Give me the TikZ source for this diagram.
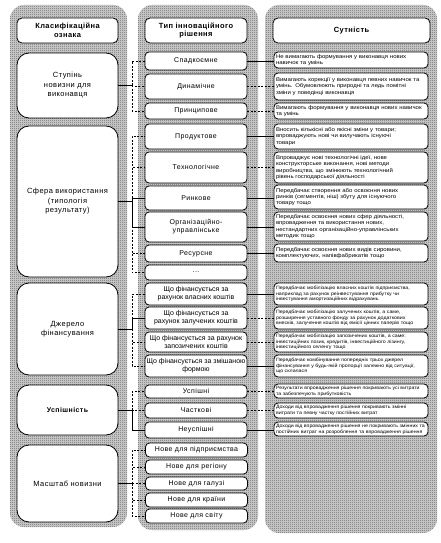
\documentclass[tikz,border=0pt]{standalone}
\usepackage{fontspec}
\setmainfont{Liberation Sans}
\newfontfamily\spc[LetterSpace=6]{Liberation Sans}
\newfontfamily\wide[FakeStretch=1.12]{Liberation Sans}
\usetikzlibrary{patterns}
\pgfdeclarepatternformonly{checker}{\pgfpointorigin}{\pgfpoint{2bp}{2bp}}{\pgfpoint{2bp}{2bp}}{%
  \pgfpathrectangle{\pgfpointorigin}{\pgfpoint{1bp}{1bp}}%
  \pgfpathrectangle{\pgfpoint{1bp}{1bp}}{\pgfpoint{1bp}{1bp}}%
  \pgfusepath{fill}}
\tikzset{
  colbg/.style={fill=black!18, rounded corners=14bp},
  hatch/.style={pattern=checker, pattern color=black!60, rounded corners=14bp},
  hdr/.style={draw, fill=white, rounded corners=5bp, line width=0.8bp, inner sep=0pt, align=center, minimum height=25bp, font={\spc\bfseries\fontsize{7.5}{9}\selectfont}},
  lbox/.style={draw, fill=white, rounded corners=12bp, line width=0.8bp, minimum width=101bp, inner sep=0pt, align=center, font={\spc\fontsize{7.5}{9.5}\selectfont}},
  mbox/.style={draw, fill=white, rounded corners=4bp, line width=0.8bp, minimum width=102bp, inner sep=0pt, align=center, font={\spc\fontsize{7}{8}\selectfont}},
  mboxn/.style={mbox, font={\fontsize{7}{8}\selectfont}},
  rbox/.style={draw, fill=white, rounded corners=4bp, line width=0.8bp, minimum width=154bp, text width=150bp, inner sep=0pt, align=left, font={\wide\fontsize{5.4}{6.3}\selectfont}},
  rboxs/.style={rbox, font={\wide\fontsize{4.7}{5.7}\selectfont}},
  trunk/.style={line width=0.9bp},
  trunkb/.style={line width=1.4bp},
  sol/.style={line width=0.7bp},
  dsh/.style={line width=0.7bp, dash pattern=on 2bp off 1.5bp},
}
\begin{document}
\begin{tikzpicture}[x=1bp, y=-1bp]
\useasboundingbox (0,0) rectangle (441,543);
% column backgrounds
\path[colbg] (10,5) rectangle (127,527);
\path[hatch] (10,5) rectangle (127,527);
\path[colbg] (138,5) rectangle (258,530);
\path[hatch] (138,5) rectangle (258,530);
\path[colbg] (265,5) rectangle (437,533);
\path[hatch] (265,5) rectangle (437,533);
% headers
\node[hdr, minimum width=101bp] (hL) at (67.5,30.5) {Класифікаційна\\ознака};
\node[hdr, minimum width=102bp] (hM) at (196,30.5) {Тип інноваційного\\рішення};
\node[hdr, minimum width=157bp] (hR) at (351.5,30.5) {Сутність};
% left boxes
\node[lbox, minimum height=65bp] (L1) at (67.5,85.5) {Ступінь\\новизни для\\виконавця};
\node[lbox, minimum height=151bp] (L2) at (67.5,201.5) {Сфера використання\\(типологія\\результату)};
\node[lbox, minimum height=92bp] (L3) at (67.5,329) {Джерело\\фінансування};
\node[lbox, minimum height=50bp, font={\spc\bfseries\fontsize{7}{9}\selectfont}] (L4) at (67.5,410) {Успішність};
\node[lbox, minimum height=77bp] (L5) at (67.5,483.5) {Масштаб новизни};
% middle boxes
\node[mbox, minimum height=18bp] (M1) at (196,61) {Спадкоємне};
\node[mbox, minimum height=25bp] (M2) at (196,86.5) {Динамічне};
\node[mbox, minimum height=16bp] (M3) at (196,111) {Принципове};
\node[mbox, minimum height=25bp] (M4) at (196,136.5) {Продуктове};
\node[mbox, minimum height=31bp] (M5) at (196,167.5) {Технологічне};
\node[mbox, minimum height=24bp] (M6) at (196,198) {Ринкове};
\node[mbox, minimum height=30bp] (M7) at (196,227) {Організаційно-\\управлінське};
\node[mbox, minimum height=17bp] (M8) at (196,253.5) {Ресурсне};
\node[mbox, minimum height=15bp] (M9) at (196,272.5) {...};
\node[mboxn, minimum height=22bp] (M10) at (196,294) {Що фінансується за\\рахунок власних коштів};
\node[mboxn, minimum height=22bp] (M11) at (196,318) {Що фінансується за\\рахунок залучених коштів};
\node[mboxn, minimum height=20bp] (M12) at (196,342) {Що фінансується за рахунок\\запозичених коштів};
\node[mboxn, minimum height=22bp] (M13) at (196,366) {Що фінансується за змішаною\\формою};
\node[mbox, minimum height=13bp] (M14) at (196,391.5) {Успішні};
\node[mbox, minimum height=15bp] (M15) at (196,410.5) {Часткові};
\node[mbox, minimum height=16bp] (M16) at (196,430) {Неуспішні};
\node[mbox, minimum height=14bp] (M17) at (196.5,450) {Нове для підприємства};
\node[mbox, minimum height=14bp] (M18) at (196.5,467) {Нове для регіону};
\node[mbox, minimum height=13bp] (M19) at (196.5,483.5) {Нове для галузі};
\node[mbox, minimum height=14bp] (M20) at (196.5,500) {Нове для країни};
\node[mbox, minimum height=14bp] (M21) at (196.5,516) {Нове для світу};
% right boxes
\node[rbox, minimum height=16bp] (R1) at (351,60) {Не вимагають формування у виконавця нових\\навичок та умінь};
\node[rbox, minimum height=27bp] (R2) at (351,86.5) {Вимагають корекції у виконавця певних навичок та\\умінь. Обумовлюють природні та ледь помітні\\зміни у поведінці виконавця};
\node[rbox, minimum height=16bp] (R3) at (351,111) {Вимагають формування у виконавця нових навичок\\та умінь};
\node[rbox, minimum height=25bp] (R4) at (351,136.5) {Вносить кількісні або якісні зміни у товари;\\впроваджують нові чи вилучають існуючі\\товари};
\node[rbox, minimum height=31bp] (R5) at (351,167.5) {Впроваджує нові технологічні ідеї, нове\\конструкторське виконання, нові методи\\виробництва, що змінюють технологічний\\рівень господарської діяльності};
\node[rbox, minimum height=24bp] (R6) at (351,197) {Передбачає створення або освоєння нових\\ринків (сегментів, ніш) збуту для існуючого\\товару тощо};
\node[rbox, minimum height=29bp] (R7) at (351,226.5) {Передбачає освоєння нових сфер діяльності,\\впровадження та використання нових,\\нестандартних організаційно-управлінських\\методик тощо};
\node[rbox, minimum height=18bp] (R8) at (351,253) {Передбачає освоєння нових видів сировини,\\комплектуючих, напівфабрикатів тощо};
\node[rboxs, minimum height=22bp] (R9) at (351,294) {Передбачає мобілізацію власних коштів підприємства,\\наприклад за рахунок реінвестування прибутку чи\\інвестування амортизаційних відрахувань};
\node[rboxs, minimum height=22bp] (R10) at (351,318) {Передбачає мобілізацію залучених коштів, а саме,\\розширення уставного фонду за рахунок додаткових\\внесків, залучення коштів від емісії цінних паперів тощо};
\node[rboxs, minimum height=20bp] (R11) at (351,342) {Передбачає мобілізацію запозичених коштів, а саме:\\інвестиційних позик, кредитів, інвестиційного лізингу,\\інвестиційного селенгу тощо};
\node[rboxs, minimum height=22bp] (R12) at (351,366) {Передбачає комбінування попередніх трьох джерел\\фінансування у будь-якій пропорції залежно від ситуації,\\що склалася};
\node[rboxs, minimum height=14bp] (R13) at (351,391) {Результати впровадження рішення покривають усі витрати\\та забезпечують прибутковість};
\node[rboxs, minimum height=15bp] (R14) at (351,410.5) {Доходи від впровадження рішення покривають змінні\\витрати та певну частку постійних витрат};
\node[rboxs, minimum height=14bp] (R15) at (351,429) {Доходи від впровадження рішення не покривають змінних та\\постійних витрат на розроблення та впровадження рішення};
% left -> middle connectors
\path (L1.east) ++(14bp,0) coordinate (b1);
\path (L2.east) ++(14bp,0) coordinate (b2);
\path (L3.east) ++(14bp,0) coordinate (b3);
\path (L4.east) ++(14bp,0) coordinate (b4);
\path (L5.east) ++(14bp,0) coordinate (b5);
\draw[trunkb] (L1.east) -- (b1);
\draw[dsh] (b1) |- (M1.west);
\draw[dsh] (b1) |- (M2.west);
\draw[dsh] (b1) |- (M3.west);
\draw[trunk] (L2.east) -- (b2);
\draw[dsh] (b2) |- (M4.west);
\draw[dsh] (b2) |- (M5.west);
\draw[sol] (b2) |- (M6.west);
\draw[sol] (b2) |- (M7.west);
\draw[dsh] (b2) |- (M8.west);
\draw[dsh] (b2) |- (M9.west);
\draw[trunk] (L3.east) -- (b3);
\draw[dsh] (b3) |- (M10.west);
\draw[sol] (b3) |- (M11.west);
\draw[dsh] (b3) |- (M12.west);
\draw[dsh] (b3) |- (M13.west);
\draw[trunk] (L4.east) -- (b4);
\draw[dsh] (b4) |- (M14.west);
\draw[dsh] (b4) |- (M15.west);
\draw[sol] (b4) |- (M16.west);
\draw[trunkb] (L5.east) -- (b5);
\draw[dsh] (b5) |- (M17.west);
\draw[dsh] (b5) |- (M18.west);
\draw[dsh] (b5) |- (M19.west);
\draw[dsh] (b5) |- (M20.west);
\draw[dsh] (b5) |- (M21.west);
% middle -> right connectors
\draw[sol] (M1.east) -- (M1.east -| R1.west);
\draw[dsh] (M2.east) -- (M2.east -| R2.west);
\draw[dsh] (M3.east) -- (M3.east -| R3.west);
\draw[sol] (M4.east) -- (M4.east -| R4.west);
\draw[dsh] (M5.east) -- (M5.east -| R5.west);
\draw[sol] (M6.east) -- (M6.east -| R6.west);
\draw[sol] (M7.east) -- (M7.east -| R7.west);
\draw[sol] (M8.east) -- (M8.east -| R8.west);
\draw[sol] (M10.east) -- (M10.east -| R9.west);
\draw[dsh] (M11.east) -- (M11.east -| R10.west);
\draw[dsh] (M12.east) -- (M12.east -| R11.west);
\draw[sol] (M13.east) -- (M13.east -| R12.west);
\draw[dsh] (M14.east) -- (M14.east -| R13.west);
\draw[dsh] (M15.east) -- (M15.east -| R14.west);
\draw[sol] (M16.east) -- (M16.east -| R15.west);
\end{tikzpicture}
\end{document}
